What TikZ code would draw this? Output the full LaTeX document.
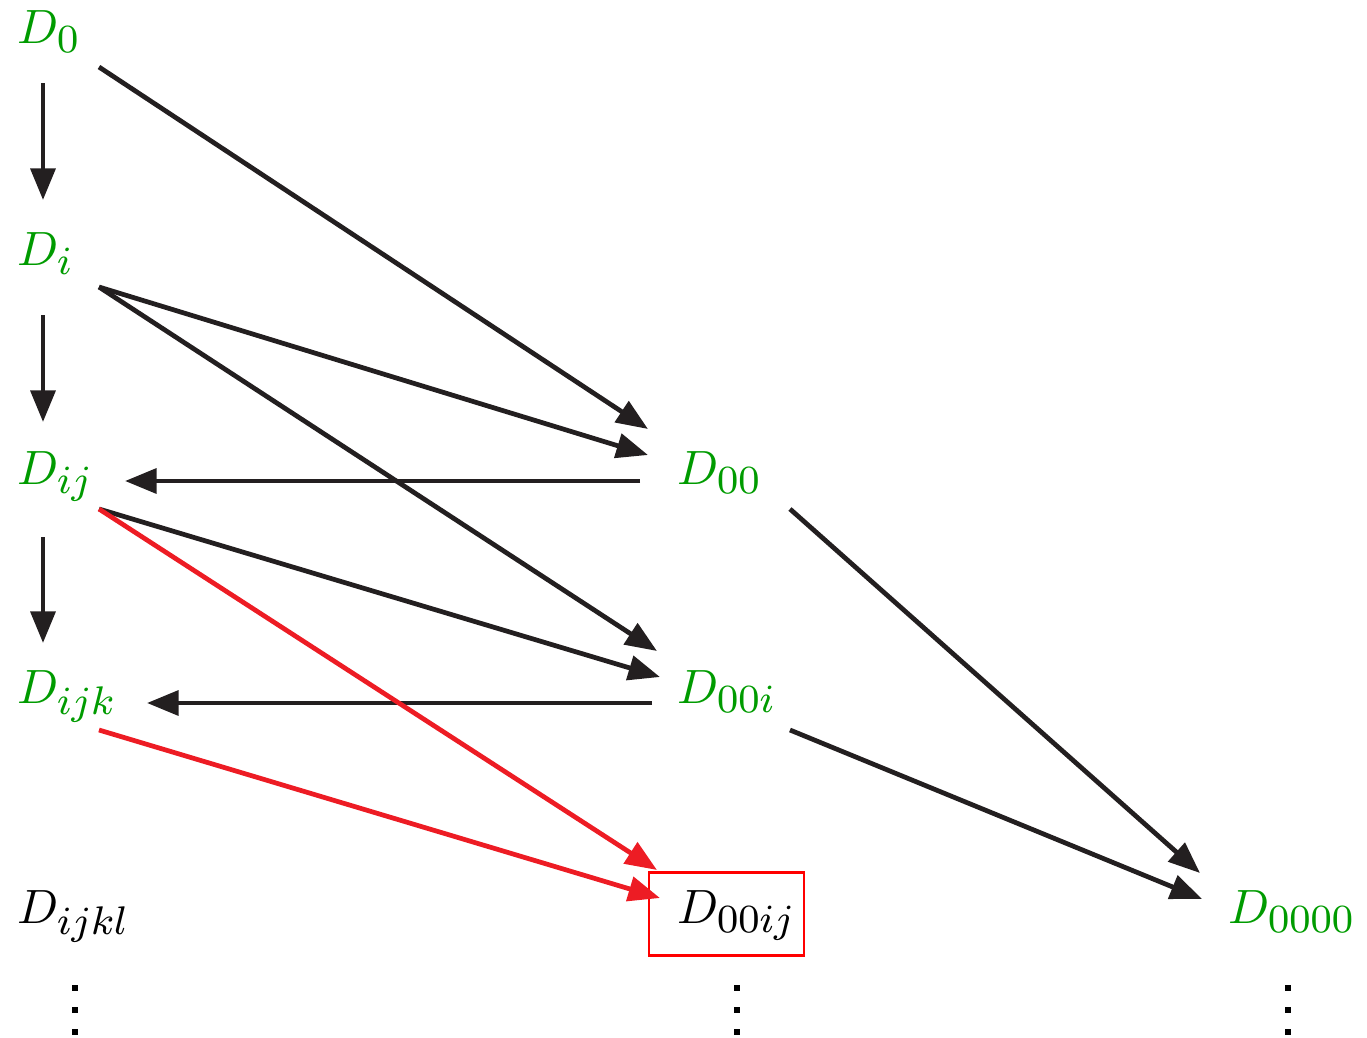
\RequirePackage{fix-cm}
\documentclass[tikz,border=0pt]{standalone}
\usetikzlibrary{arrows.meta}
\DeclareMathSizes{10}{10}{8.3}{6.6}
\definecolor{termgreen}{RGB}{0,155,0}
\definecolor{arrowdark}{RGB}{35,31,32}
\definecolor{arrowred}{RGB}{237,28,36}
\definecolor{boxred}{RGB}{255,0,0}
% enlarged math term
\newcommand\bigterm[1]{\scalebox{2.74}{$#1$}}
\begin{document}
\begin{tikzpicture}[x=0.02cm,y=-0.02cm,
  term/.style={inner sep=0pt,anchor=base west,font=\fontsize{10}{12}\selectfont},
  known/.style={term,text=termgreen},
  flow/.style={line width=2.7pt,draw=arrowdark,-{Triangle[length=18pt,width=14pt]}},
  redflow/.style={flow,draw=arrowred,fill=arrowred},
  hilite/.style={draw=boxred,line width=1.7pt},
  dot/.style={fill=black,inner sep=0pt,minimum size=6*0.02cm,rectangle}]
  \useasboundingbox (0,0) rectangle (1367,1038);

  % terms
  \node[known] (D0)    at (17,43)   {\bigterm{D_0}};
  \node[known] (Di)    at (17,265)  {\bigterm{D_i}};
  \node[known] (Dij)   at (17,484)  {\bigterm{D_{ij}}};
  \node[known] (Dijk)  at (17,703)  {\bigterm{D_{ijk}}};
  \node[term]  (Dijkl) at (17,923)  {\bigterm{D_{ijkl}}};
  \node[known] (D00)   at (677,484) {\bigterm{D_{00}}};
  \node[known] (D00i)  at (677,703) {\bigterm{D_{00i}}};
  \node[term]  (D00ij) at (677,923) {\bigterm{D_{00ij}}};
  \node[known] (D0000) at (1228,923) {\bigterm{D_{0000}}};

  % highlighted term
  \draw[hilite] (649,872) rectangle (804,955);

  % ports
  \coordinate (D0s)   at (43,83);   \coordinate (Din)   at (43,200);
  \coordinate (Dis)   at (43,315);  \coordinate (Dijn)  at (43,422);
  \coordinate (Dijs)  at (43,537);  \coordinate (Dijkn) at (43,643);
  \coordinate (D0e)   at (99,67);
  \coordinate (Die)   at (99,287);
  \coordinate (Dije)  at (99,509);
  \coordinate (Dijke) at (99,730);
  \coordinate (D00a)  at (648,429);
  \coordinate (D00b)  at (648,455);
  \coordinate (D00w)  at (640,481);
  \coordinate (Dijw)  at (125,481);
  \coordinate (D00ia) at (657,651);
  \coordinate (D00ib) at (660,677);
  \coordinate (D00iw) at (652,703);
  \coordinate (Dijkw) at (147,703);
  \coordinate (D00ija) at (657,870);
  \coordinate (D00ijb) at (660,898);
  \coordinate (D00e)  at (790,509);
  \coordinate (D00ie) at (790,730);
  \coordinate (D0000a) at (1200,873);
  \coordinate (D0000b) at (1202,899);

  % recursion arrows
  \draw[flow] (D0s) -- (Din);
  \draw[flow] (Dis) -- (Dijn);
  \draw[flow] (Dijs) -- (Dijkn);
  \draw[flow] (D0e) -- (D00a);
  \draw[flow] (Die) -- (D00b);
  \draw[flow] (Die) -- (D00ia);
  \draw[flow] (D00w) -- (Dijw);
  \draw[flow] (Dije) -- (D00ib);
  \draw[flow] (D00iw) -- (Dijkw);
  \draw[flow] (D00e) -- (D0000a);
  \draw[flow] (D00ie) -- (D0000b);
  \draw[redflow] (Dije) -- (D00ija);
  \draw[redflow] (Dijke) -- (D00ijb);

  % continuation dots
  \foreach \c/\x in {l/75,m/737,r/1288}{
    \node[dot] (dot\c1) at (\x,988) {};
    \node[dot] (dot\c2) at (\x,1010) {};
    \node[dot] (dot\c3) at (\x,1032) {};
  }
\end{tikzpicture}
\end{document}
